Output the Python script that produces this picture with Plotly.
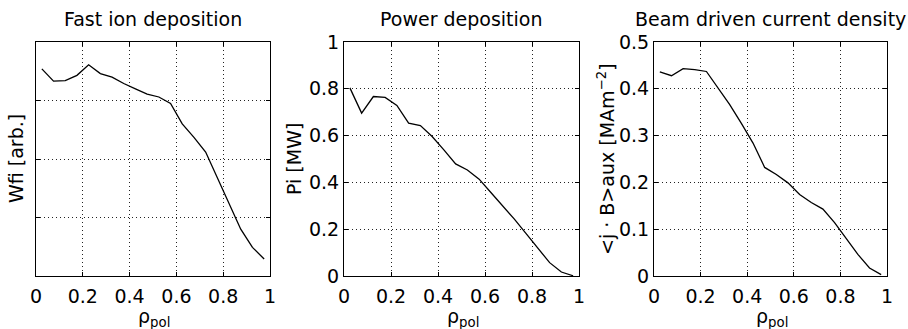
import plotly.graph_objects as go

W, H = 908, 329

rho = [0.025, 0.075, 0.125, 0.175, 0.225, 0.275, 0.325, 0.375, 0.425, 0.475,
       0.525, 0.575, 0.625, 0.675, 0.725, 0.775, 0.825, 0.875, 0.925, 0.975]

wfi = [3.54, 3.33, 3.34, 3.43, 3.61, 3.46, 3.40, 3.29, 3.20, 3.11,
       3.06, 2.95, 2.60, 2.37, 2.12, 1.68, 1.25, 0.80, 0.49, 0.29]

pi_mw = [0.804, 0.696, 0.767, 0.763, 0.729, 0.653, 0.643, 0.596, 0.539, 0.479,
         0.453, 0.414, 0.357, 0.300, 0.243, 0.181, 0.117, 0.057, 0.017, 0.001]

jb = [0.436, 0.428, 0.443, 0.441, 0.437, 0.401, 0.366, 0.326, 0.284, 0.232,
      0.217, 0.199, 0.174, 0.157, 0.143, 0.114, 0.081, 0.046, 0.017, 0.003]

titles = ["Fast ion deposition", "Power deposition", "Beam driven current density"]
ylabels = ["Wfi [arb.]", "Pi [MW]", "&lt;j · B&gt;aux [MAm<sup>−2</sup>]"]
xticks = [0, 0.2, 0.4, 0.6, 0.8, 1]
xtick_text = ["0", "0.2", "0.4", "0.6", "0.8", "1"]
y1_ticks = [0, 1, 2, 3, 4]
y2_ticks = [0, 0.2, 0.4, 0.6, 0.8, 1]
y2_text = ["0", "0.2", "0.4", "0.6", "0.8", "1"]
y3_ticks = [0, 0.1, 0.2, 0.3, 0.4, 0.5]
y3_text = ["0", "0.1", "0.2", "0.3", "0.4", "0.5"]

FONT = "DejaVu Sans"
FS = 19

# panel pixel boxes
panels_x = [(36, 270), (344, 579), (654, 887)]
top_px, bot_px = 42, 276

fig = go.Figure()
series = [wfi, pi_mw, jb]
for i, ys in enumerate(series):
    fig.add_trace(go.Scatter(x=rho, y=ys, mode="lines",
                             line=dict(color="black", width=1.3),
                             xaxis="x" if i == 0 else f"x{i+1}",
                             yaxis="y" if i == 0 else f"y{i+1}",
                             showlegend=False, hoverinfo="skip"))

axis_common = dict(showline=True, linecolor="black", linewidth=1, mirror="ticks",
                   ticks="inside", ticklen=4, tickcolor="black", automargin=False,
                   showgrid=True, gridcolor="#222222", griddash="1px,3px", gridwidth=1,
                   zeroline=False, tickfont=dict(family=FONT, size=FS, color="black"))

layout = dict(template="none", width=W, height=H,
              margin=dict(l=0, r=0, t=0, b=0, pad=0, autoexpand=False),
              paper_bgcolor="white", plot_bgcolor="white", showlegend=False)

yconf = [
    dict(range=[0, 4], tickvals=y1_ticks, showticklabels=False),
    dict(range=[0, 1], tickvals=y2_ticks, ticktext=y2_text),
    dict(range=[0, 0.5], tickvals=y3_ticks, ticktext=y3_text),
]
ydom = [1 - bot_px / H, 1 - top_px / H]
for i, (x0, x1) in enumerate(panels_x):
    xn = "xaxis" if i == 0 else f"xaxis{i+1}"
    yn = "yaxis" if i == 0 else f"yaxis{i+1}"
    xa = dict(axis_common, domain=[x0 / W, x1 / W], range=[0, 1],
              tickvals=xticks, ticktext=xtick_text, ticklabelstandoff=3,
              anchor="y" if i == 0 else f"y{i+1}")
    ya = dict(axis_common, domain=ydom, **yconf[i], ticklabelstandoff=0,
              anchor="x" if i == 0 else f"x{i+1}")
    layout[xn] = xa
    layout[yn] = ya

fig.update_layout(**layout)

ann = []
ylabel_x = [16, 294, 606]
for i, (x0, x1) in enumerate(panels_x):
    cx = (x0 + x1) / 2
    ann.append(dict(text=titles[i], x=cx / W, y=1 - 19 / H, xref="paper", yref="paper",
                    showarrow=False, xanchor="center", yanchor="middle",
                    font=dict(family=FONT, size=FS, color="black")))
    ann.append(dict(text="ρ<sub>pol</sub>", x=(cx + 1) / W, y=1 - 317 / H,
                    xref="paper", yref="paper", showarrow=False,
                    xanchor="center", yanchor="middle",
                    font=dict(family=FONT, size=FS, color="black")))
    ann.append(dict(text=ylabels[i], x=ylabel_x[i] / W, y=1 - 159 / H,
                    xref="paper", yref="paper", showarrow=False, textangle=-90,
                    xanchor="center", yanchor="middle",
                    font=dict(family=FONT, size=FS, color="black")))
fig.update_layout(annotations=ann)

fig.write_html("out.html")
